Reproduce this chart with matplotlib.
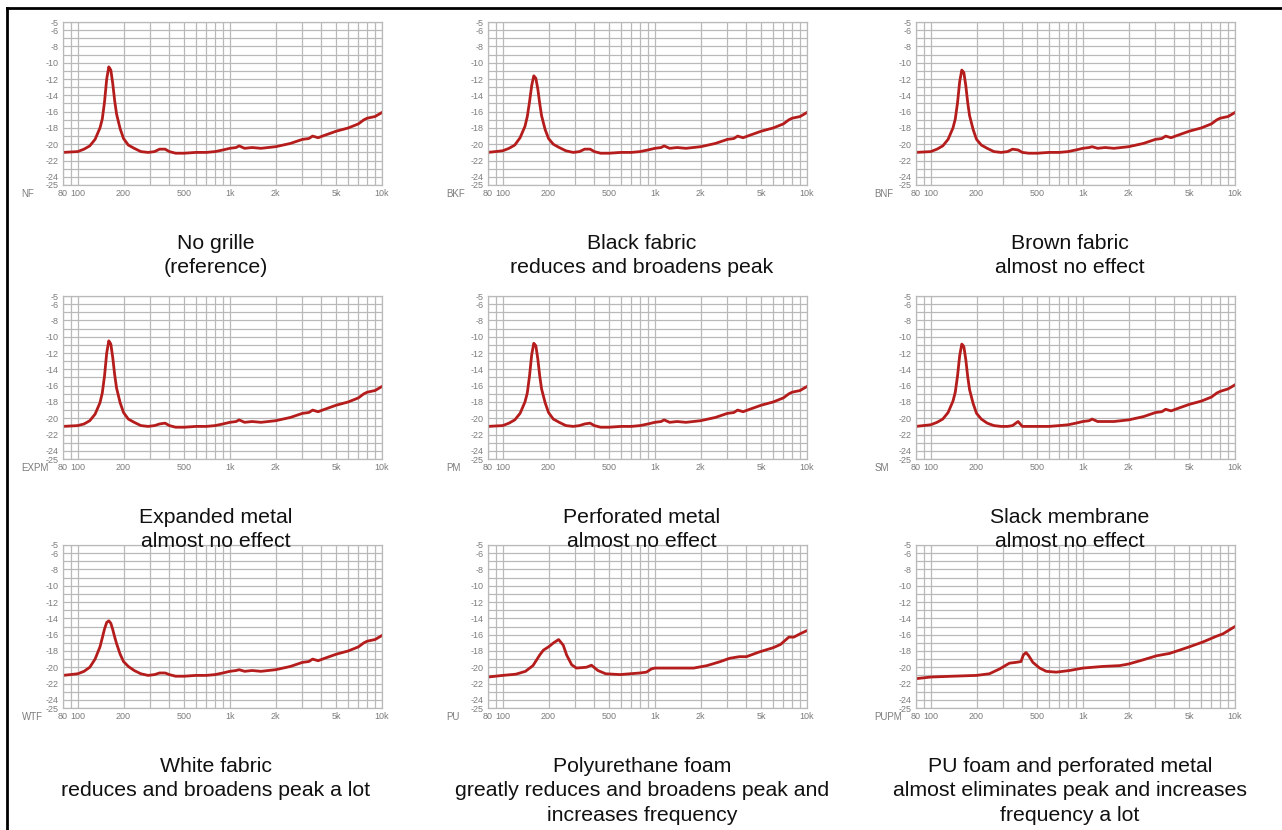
import matplotlib
matplotlib.use("Agg")
import matplotlib.pyplot as plt
from matplotlib.lines import Line2D
from matplotlib.ticker import NullLocator

plt.rcParams['font.family'] = ['Liberation Sans', 'DejaVu Sans']

# frequency grid shared by the first seven measurements (Hz)
freq = [80, 100, 110, 120, 130, 140, 145, 150, 155, 160,
        165, 170, 175, 180, 190, 200, 215, 235, 260, 290,
        320, 345, 375, 400, 440, 500, 600, 700, 800, 900,
        1000, 1100, 1150, 1250, 1400, 1600, 2000, 2500, 3000, 3300,
        3500, 3800, 4200, 5000, 6000, 7000, 7600, 8000, 9000, 10000]

nf_db = [-21.0, -20.9, -20.6, -20.2, -19.4, -18.0, -16.9, -14.8, -12.0, -10.5,
         -10.9, -12.6, -14.7, -16.3, -18.1, -19.3, -20.1, -20.5, -20.9, -21.0,
         -20.9, -20.6, -20.6, -20.9, -21.1, -21.1, -21.0, -21.0, -20.9, -20.7,
         -20.5, -20.4, -20.2, -20.5, -20.4, -20.5, -20.3, -19.9, -19.4, -19.3,
         -19.0, -19.2, -18.9, -18.4, -18.0, -17.5, -17.0, -16.8, -16.6, -16.1]

bkf_db = [-21.0, -20.8, -20.5, -20.1, -19.2, -17.8, -16.6, -14.8, -12.8, -11.6,
          -11.9, -13.2, -15.0, -16.5, -18.2, -19.3, -20.0, -20.4, -20.8, -21.0,
          -20.9, -20.6, -20.6, -20.9, -21.1, -21.1, -21.0, -21.0, -20.9, -20.7,
          -20.5, -20.4, -20.2, -20.5, -20.4, -20.5, -20.3, -19.9, -19.4, -19.3,
          -19.0, -19.2, -18.9, -18.4, -18.0, -17.5, -17.0, -16.8, -16.6, -16.1]

bnf_db = [-21.0, -20.9, -20.6, -20.2, -19.4, -18.0, -16.9, -14.9, -12.3, -10.9,
          -11.2, -12.8, -14.9, -16.5, -18.2, -19.4, -20.1, -20.5, -20.9, -21.0,
          -20.9, -20.6, -20.7, -21.0, -21.1, -21.1, -21.0, -21.0, -20.9, -20.7,
          -20.5, -20.4, -20.3, -20.5, -20.4, -20.5, -20.3, -19.9, -19.4, -19.3,
          -19.0, -19.2, -18.9, -18.4, -18.0, -17.5, -17.0, -16.8, -16.6, -16.1]

expm_db = [-21.0, -20.9, -20.7, -20.3, -19.5, -18.1, -16.9, -14.8, -12.0, -10.5,
           -10.9, -12.6, -14.7, -16.3, -18.1, -19.3, -20.1, -20.5, -20.9, -21.0,
           -20.9, -20.7, -20.6, -20.9, -21.1, -21.1, -21.0, -21.0, -20.9, -20.7,
           -20.5, -20.4, -20.2, -20.5, -20.4, -20.5, -20.3, -19.9, -19.4, -19.3,
           -19.0, -19.2, -18.9, -18.4, -18.0, -17.5, -17.0, -16.8, -16.6, -16.1]

pm_db = [-21.0, -20.9, -20.6, -20.2, -19.4, -18.0, -16.9, -14.8, -12.2, -10.8,
         -11.1, -12.7, -14.8, -16.4, -18.1, -19.3, -20.1, -20.5, -20.9, -21.0,
         -20.9, -20.7, -20.6, -20.9, -21.1, -21.1, -21.0, -21.0, -20.9, -20.7,
         -20.5, -20.4, -20.2, -20.5, -20.4, -20.5, -20.3, -19.9, -19.4, -19.3,
         -19.0, -19.2, -18.9, -18.4, -18.0, -17.5, -17.0, -16.8, -16.6, -16.1]

sm_db = [-21.0, -20.8, -20.5, -20.1, -19.3, -17.9, -16.8, -14.8, -12.3, -10.9,
         -11.2, -12.8, -14.9, -16.5, -18.2, -19.4, -20.1, -20.6, -20.9, -21.0,
         -21.0, -20.9, -20.4, -21.0, -21.0, -21.0, -21.0, -20.9, -20.8, -20.6,
         -20.4, -20.3, -20.1, -20.4, -20.4, -20.4, -20.2, -19.8, -19.3, -19.2,
         -18.9, -19.1, -18.8, -18.3, -17.9, -17.4, -16.9, -16.7, -16.4, -15.9]

wtf_db = [-21.0, -20.8, -20.5, -20.0, -19.0, -17.5, -16.4, -15.3, -14.5, -14.3,
          -14.6, -15.4, -16.3, -17.1, -18.4, -19.3, -19.9, -20.4, -20.8, -21.0,
          -20.9, -20.7, -20.7, -20.9, -21.1, -21.1, -21.0, -21.0, -20.9, -20.7,
          -20.5, -20.4, -20.3, -20.5, -20.4, -20.5, -20.3, -19.9, -19.4, -19.3,
          -19.0, -19.2, -18.9, -18.4, -18.0, -17.5, -17.0, -16.8, -16.6, -16.1]

pu_freq = [80, 100, 122, 141, 158, 175, 185, 200, 216, 233,
           250, 263, 284, 305, 355, 383, 422, 475, 590, 800,
           880, 950, 1000, 1300, 1800, 2200, 2700, 3100, 3600, 4000,
           4900, 6000, 6700, 7600, 8200, 9000, 10000]
pu_db = [-21.2, -21.0, -20.85, -20.5, -19.8, -18.5, -17.9, -17.5, -17.0, -16.6,
         -17.3, -18.5, -19.7, -20.1, -20.0, -19.75, -20.4, -20.8, -20.9, -20.7,
         -20.6, -20.2, -20.1, -20.1, -20.1, -19.8, -19.3, -18.9, -18.7, -18.7,
         -18.1, -17.6, -17.2, -16.3, -16.3, -15.9, -15.5]

pupm_freq = [80, 100, 139, 200, 243, 284, 329, 364, 392, 406,
             423, 441, 469, 520, 575, 668, 817, 1000, 1355, 1745,
             2000, 2480, 3040, 3720, 4320, 5000, 6150, 7540, 8330, 10000]
pupm_db = [-21.4, -21.2, -21.1, -21.0, -20.8, -20.2, -19.5, -19.4, -19.3, -18.5,
           -18.2, -18.6, -19.4, -20.1, -20.5, -20.6, -20.4, -20.1, -19.9, -19.8,
           -19.6, -19.1, -18.6, -18.3, -17.9, -17.5, -16.9, -16.2, -15.9, -15.0]

names = ['NF', 'BKF', 'BNF', 'EXPM', 'PM', 'SM', 'WTF', 'PU', 'PUPM']
series = [(freq, nf_db), (freq, bkf_db), (freq, bnf_db),
          (freq, expm_db), (freq, pm_db), (freq, sm_db),
          (freq, wtf_db), (pu_freq, pu_db), (pupm_freq, pupm_db)]
captions = [
    ['No grille', '(reference)'],
    ['Black fabric', 'reduces and broadens peak'],
    ['Brown fabric', 'almost no effect'],
    ['Expanded metal', 'almost no effect'],
    ['Perforated metal', 'almost no effect'],
    ['Slack membrane', 'almost no effect'],
    ['White fabric', 'reduces and broadens peak a lot'],
    ['Polyurethane foam', 'greatly reduces and broadens peak and', 'increases frequency'],
    ['PU foam and perforated metal', 'almost eliminates peak and increases', 'frequency a lot'],
]

x_grid = [80, 90, 100, 200, 300, 400, 500, 600, 700, 800, 900,
          1000, 2000, 3000, 4000, 5000, 6000, 7000, 8000, 9000, 10000]
x_labels = {80: '80', 100: '100', 200: '200', 500: '500',
            1000: '1k', 2000: '2k', 5000: '5k', 10000: '10k'}
y_labels = [-5, -6, -8, -10, -12, -14, -16, -18, -20, -22, -24, -25]

W, H = 1282, 830
fig = plt.figure(figsize=(W / 100, H / 100), dpi=100)

col_left = [63, 488, 916]
col_text = [216, 642, 1070]
row_top = [22, 296, 545]
ax_w, ax_h = 319, 163
grid_col = '#b9b9b9'
lab_col = '#7c7c7c'

for i, (fx, db) in enumerate(series):
    r, c = divmod(i, 3)
    left = col_left[c]
    top = row_top[r]
    ax = fig.add_axes([left / W, (H - top - ax_h) / H, ax_w / W, ax_h / H])
    ax.set_xscale('log')
    ax.set_xlim(80, 10000)
    ax.set_ylim(-25, -5)
    ax.set_xticks(x_grid)
    ax.set_xticklabels([x_labels.get(f, '') for f in x_grid])
    ax.xaxis.set_minor_locator(NullLocator())
    ax.set_yticks(list(range(-25, -4)))
    ax.set_yticklabels([str(v) if v in y_labels else '' for v in range(-25, -4)])
    ax.grid(True, color=grid_col, lw=0.9)
    ax.tick_params(length=0, labelsize=6.5, labelcolor=lab_col, pad=3)
    for s in ax.spines.values():
        s.set_color(grid_col)
        s.set_linewidth(0.9)
    ax.plot(fx, db, color='#b51c1c', lw=2.0, solid_joinstyle='round')
    ax.text(-0.13, -0.025, names[i], transform=ax.transAxes, ha='left', va='top',
            fontsize=7, color=lab_col)

    y0 = top + ax_h + 58
    for k, line in enumerate(captions[i]):
        fig.text(col_text[c] / W, 1 - (y0 + k * 24.5) / H, line,
                 ha='center', va='center', fontsize=15.3, color='#111111')

# frame lines along the top and left edge
fig.add_artist(Line2D([7 / W, 1], [1 - 8 / H, 1 - 8 / H], color='black', lw=2))
fig.add_artist(Line2D([7 / W, 7 / W], [0, 1 - 8 / H], color='black', lw=2))

fig.savefig('out.png', dpi=100)
